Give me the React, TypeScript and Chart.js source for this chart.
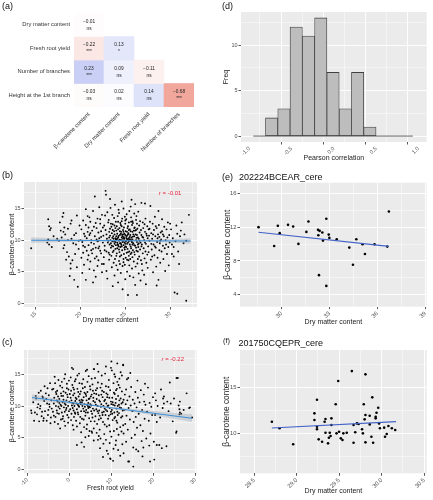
import React, { useEffect, useRef } from "react";
import { Chart, registerables } from "chart.js";

Chart.register(...registerables);
const FONT = "'Liberation Sans', Arial, Helvetica, sans-serif";
Chart.defaults.font.family = FONT;

// ---------- (a) correlation matrix ----------
const CORR_ROWS = ["Dry matter content", "Fresh root yield", "Number of branches", "Height at the 1st branch"];
const CORR_COLS = ["β-carotene content", "Dry matter content", "Fresh root yield", "Number of branches"];
const CORR_VALUES: (number | null)[][] = [
  [-0.01, null, null, null],
  [-0.22, 0.13, null, null],
  [0.23, 0.09, -0.11, null],
  [-0.03, 0.02, 0.14, -0.68],
];
const CORR_SIG: string[][] = [
  ["ns", "", "", ""],
  ["***", "*", "", ""],
  ["***", "ns", "ns", ""],
  ["ns", "ns", "ns", "***"],
];
const CORR_FILL: string[][] = [
  ["#fefcfc", "#fff", "#fff", "#fff"],
  ["#fbe7e3", "#e4e7fa", "#fff", "#fff"],
  ["#cad0f5", "#eef0fc", "#fdf1ef", "#fff"],
  ["#fefbfb", "#fcfcff", "#dfe3fa", "#f2a79d"],
];

// ---------- (d) histogram ----------
const HIST_EDGES = [-0.955, -0.81, -0.664, -0.519, -0.373, -0.228, -0.082, 0.063, 0.209, 0.354, 0.5, 0.645, 0.791, 0.936];
const HIST_COUNTS = [0, 2, 3, 12, 11, 13, 7, 3, 7, 1, 0, 0, 0];

// ---------- (b) beta-carotene vs dry matter ----------
const B_POINTS: [number, number][] = [
  [14.5,8.7],[16.4,13.3],[16.5,12.2],[16.6,11.6],[16.4,10.1],[16.5,9.3],[16.7,11.9],[16.3,9.6],[17.0,10.6],[16.8,8.9],
  [17.4,10.2],[17.7,12.8],[18.1,14.3],[18.0,13.7],[18.2,12.0],[18.1,11.3],[18.2,9.2],[18.1,8.7],[17.9,10.4],[18.3,10.9],
  [17.6,9.9],[18.5,8.1],[18.6,11.8],[18.9,12.6],[18.9,6.3],[18.9,5.5],[18.8,4.3],[19.3,3.7],[19.7,2.6],[19.6,13.9],
  [19.2,9.5],[19.4,7.8],[19.0,10.2],[18.7,7.4],[19.5,11.1],[19.8,8.6],[19.1,6.8],[19.6,5.7],[19.9,12.3],[18.4,6.9],
  [19.3,10.8],[19.8,9.9],[18.6,10.0],[19.5,9.3],[17.8,11.5],[19.0,13.1],
  [20.6,3.7],[20.2,4.8],[20.4,6.1],[20.1,7.2],[20.3,8.0],[20.5,8.9],[20.2,9.7],[20.7,10.3],[20.4,11.0],[20.1,11.7],
  [20.6,12.4],[20.3,13.1],[20.8,13.8],[20.9,9.2],[20.9,7.6],[21.0,5.4],[21.1,6.6],[21.2,8.4],[21.0,10.8],[21.3,11.5],
  [21.1,12.9],[21.4,14.6],[21.6,16.9],[21.5,9.4],[21.6,7.1],[21.7,8.8],[21.8,10.1],[21.5,12.1],[21.9,13.4],[21.7,4.2],
  [21.9,5.9],[21.4,3.3],[22.0,6.8],[22.1,9.0],[22.0,11.2],[22.2,12.6],[21.2,10.0],[20.8,11.3],[22.3,7.9],[22.3,10.5],
  [22.4,14.0],[22.1,15.2],[22.4,4.9],[22.2,8.3],[20.0,10.0],[21.8,11.9],[22.5,9.6],[22.5,12.0],[21.3,7.9],[22.0,8.7],
  [20.5,10.6],[20.9,12.0],[21.2,9.6],[21.6,10.6],[21.9,9.8],[22.3,11.4],[20.7,8.3],[21.4,8.6],[22.1,10.3],[21.0,13.6],
  [20.3,9.1],[21.7,12.7],[22.4,6.2],[21.5,5.2],[20.6,14.9],[22.2,13.3],[21.1,11.1],[21.8,7.4],[22.0,9.9],[20.8,6.9],
  [22.6,6.2],[22.7,9.1],[22.55,10.7],[22.65,12.3],[22.75,13.9],[22.8,17.8],[22.85,17.2],[22.9,5.1],[22.7,8.4],[22.95,10.2],
  [22.8,11.6],[22.6,7.3],[23.0,3.9],[23.05,9.6],[22.9,10.9],[23.1,12.8],[23.0,14.4],[23.15,8.0],[23.2,6.9],[23.25,9.3],
  [23.2,10.4],[23.3,11.8],[23.15,13.2],[23.35,15.1],[23.25,7.7],[23.3,16.5],[23.4,8.8],[23.35,10.0],[23.45,12.1],[23.5,5.7],
  [23.45,7.5],[23.55,9.8],[23.5,11.1],[23.6,12.5],[23.55,14.0],[23.65,9.0],[23.6,2.7],[23.7,8.3],[23.65,10.6],[23.75,13.5],
  [23.7,6.4],[23.8,4.4],[23.85,7.0],[23.8,9.4],[23.9,10.3],[23.75,11.4],[23.95,12.9],[23.85,15.6],[23.9,8.6],[24.0,6.0],
  [24.05,7.9],[23.95,9.2],[24.0,10.1],[24.1,11.0],[24.05,12.2],[24.15,13.8],[24.0,10.6],[24.1,8.7],[24.2,3.3],[24.15,5.3],
  [24.2,11.7],[24.25,14.8],[24.1,9.6],[24.3,6.7],[24.35,8.1],[24.25,9.0],[24.3,9.9],[24.4,10.8],[24.35,11.9],[24.45,12.7],
  [24.3,14.3],[24.4,7.4],[24.5,4.8],[24.55,7.6],[24.45,8.9],[24.5,9.5],[24.6,10.4],[24.55,11.3],[24.5,12.4],[24.65,13.4],
  [24.6,16.1],[24.45,10.0],[24.7,5.9],[24.65,8.4],[24.7,9.7],[24.75,11.6],[24.6,13.0],[24.7,2.2],[24.8,6.5],[24.85,7.8],
  [24.8,9.2],[24.9,10.2],[24.75,10.9],[24.85,12.0],[24.95,13.7],[24.8,15.0],[24.9,8.8],[25.0,3.8],[25.05,7.2],[24.95,8.5],
  [25.0,9.4],[25.1,10.5],[25.05,11.4],[25.0,12.6],[25.15,14.1],[25.1,9.9],[24.95,6.1],[25.2,5.0],[25.15,8.0],[25.2,10.7],
  [25.25,11.9],[25.1,13.3],[25.3,1.3],[25.35,6.8],[25.25,8.6],[25.3,9.6],[25.4,10.3],[25.35,11.1],[25.3,12.2],[25.45,14.6],
  [25.4,7.5],[25.5,4.3],[25.55,7.0],[25.45,8.2],[25.5,9.3],[25.6,10.1],[25.55,10.8],[25.5,11.7],[25.65,12.9],[25.6,15.3],
  [25.45,6.0],[25.7,16.4],[25.75,5.5],[25.65,8.7],[25.7,9.8],[25.8,11.3],[25.75,12.4],[25.65,13.6],[25.8,7.3],[25.9,4.1],
  [25.95,6.6],[25.85,8.4],[25.9,9.5],[26.0,10.6],[25.95,11.5],[25.85,12.7],[26.0,14.2],[26.1,2.9],[26.15,5.8],[26.05,7.7],
  [26.1,9.1],[26.2,10.0],[26.15,10.9],[26.05,12.0],[26.2,13.2],[26.1,15.7],[26.3,1.3],[26.35,6.3],[26.25,8.3],[26.3,9.7],
  [26.4,10.4],[26.35,11.8],[26.25,13.8],[26.4,7.0],[26.5,4.7],[26.55,7.4],[26.45,8.9],[26.5,10.2],[26.6,11.2],[26.55,12.3],
  [26.45,14.5],[26.7,3.6],[26.75,6.8],[26.65,8.5],[26.7,9.6],[26.8,10.8],[26.75,11.6],[26.65,13.0],[26.8,15.9],[26.9,5.2],
  [26.95,7.9],[26.85,9.3],[26.9,10.5],[27.0,11.9],[26.95,12.8],[26.85,6.2],[27.1,4.5],[27.15,7.1],[27.05,8.7],[27.1,10.0],
  [27.2,11.3],[27.15,12.5],[27.2,15.8],[27.3,3.0],[27.35,6.4],[27.25,8.2],[27.3,9.4],[27.4,10.7],[27.35,11.0],[27.25,13.4],
  [27.5,5.6],[27.45,7.7],[27.55,9.0],[27.5,10.3],[27.6,11.7],[27.45,12.2],
  [23.1,9.9],[23.3,10.7],[23.5,9.1],[23.6,11.6],[23.8,10.9],[23.9,9.7],[24.0,11.5],[24.2,10.4],[24.3,8.5],[24.4,9.5],
  [24.5,11.0],[24.6,9.0],[24.7,10.6],[24.8,11.3],[24.9,9.6],[25.0,10.8],[25.1,8.9],[25.2,9.4],[25.3,10.9],[25.4,11.6],
  [25.5,10.5],[25.6,9.0],[25.7,10.4],[25.8,9.3],[25.9,10.9],[26.0,9.2],[26.1,11.5],[26.2,8.8],[26.3,10.8],[26.4,9.3],
  [23.2,11.3],[23.4,9.5],[23.7,10.2],[23.9,11.9],[24.1,10.2],[24.2,9.2],[24.4,11.4],[24.6,10.0],[24.8,9.9],[24.9,11.0],
  [25.0,9.0],[25.2,11.3],[25.3,8.1],[25.4,9.8],[25.6,11.4],[25.7,8.0],[25.8,10.1],[26.0,11.9],[26.2,11.6],[26.4,8.2],
  [22.9,8.2],[23.4,12.6],[23.6,8.1],[23.8,12.3],[24.0,7.5],[24.2,12.9],[24.4,6.2],[24.6,12.2],[24.8,7.0],[25.0,13.1],
  [25.2,6.9],[25.4,12.8],[25.6,7.8],[25.8,13.0],[26.0,8.1],[26.3,12.6],[26.6,9.9],[26.8,9.0],[27.0,10.4],[27.2,9.6],
  [23.55,10.35],[24.25,10.65],[24.75,10.25],[25.25,10.15],[25.75,9.65],[26.25,10.35],[24.55,9.25],[25.05,9.75],[25.45,10.05],[23.95,10.15],
  [24.35,10.05],[24.85,10.45],[25.35,9.95],[25.85,10.55],[26.5,9.45],[24.65,10.85],[25.15,10.25],[25.65,9.95],[23.75,9.75],[24.15,9.35],
  [27.6,8.1],[27.7,9.9],[27.8,15.4],[27.75,12.9],[27.9,11.1],[27.85,6.9],[27.95,8.5],[28.0,10.2],[28.05,12.6],[28.1,4.9],
  [28.15,9.3],[28.2,11.6],[28.25,7.6],[28.3,13.7],[28.35,10.6],[28.4,8.8],[28.45,5.8],[28.5,2.8],[28.5,11.9],[28.55,9.7],
  [28.6,7.2],[28.65,10.9],[28.7,14.6],[28.7,3.7],[28.75,12.4],[28.8,8.4],[28.85,9.5],[28.9,6.4],[28.95,11.2],[29.0,10.1],
  [29.05,8.2],[29.1,11.4],[29.1,13.3],[29.2,9.1],[29.25,7.0],[29.3,10.6],[29.35,12.1],[29.4,8.7],[29.45,5.1],[29.5,10.0],
  [29.55,9.3],[29.6,11.7],[29.65,7.8],[29.7,10.4],[29.75,12.8],[29.8,8.9],[29.85,6.0],[29.9,10.8],[29.95,9.6],[27.65,10.7],
  [27.9,9.4],[28.1,10.9],[28.3,9.0],[28.6,10.3],[28.9,9.9],[29.2,10.9],[27.7,11.8],[28.0,7.4],[28.4,12.2],[28.8,10.5],
  [30.1,11.7],[30.2,9.3],[30.4,8.9],[30.4,7.4],[30.8,11.0],[30.5,1.7],[30.8,1.5],[31.8,9.9],[32.1,14.0],[31.8,0.4],
  [31.3,12.8],[30.3,10.3],[30.6,9.8],[30.9,8.2],[31.1,10.6],[31.5,9.5],[30.0,12.6],[30.7,12.3],[31.0,6.2],[31.6,10.9],
  [30.2,7.8],[31.2,11.5],
];
const B_FIT_X = [14.5, 32.3];
const B_FIT_Y = [9.98, 9.85];
const B_BAND_X = [14.5, 19, 23.7, 28, 32.3];
const B_BAND_LO = [9.53, 9.73, 9.79, 9.68, 9.4];
const B_BAND_HI = [10.43, 10.17, 10.03, 10.08, 10.3];
const B_NOTE = { r: "r", rest: " = -0.01", x: 30.0, y: 17.4 };

// ---------- (c) beta-carotene vs fresh root yield ----------
const C_POINTS: [number, number][] = [
  [-9.0,8.9],[-8.2,9.0],[-9.1,9.3],[-7.7,8.7],[-6.4,11.5],[-6.2,7.7],[-5.4,7.7],[-6.3,11.3],[-4.6,13.6],[-8.6,10.6],
  [-7.9,11.2],[-7.4,10.3],[-7.0,9.6],[-6.8,12.4],[-6.6,8.4],[-6.0,10.8],[-5.8,9.2],[-5.6,12.0],[-5.3,10.4],[-5.1,8.6],
  [-4.9,11.7],[-4.7,9.9],[-4.5,7.3],[-4.3,10.9],[-4.1,12.6],[-8.0,11.6],[-7.2,7.6],[-6.9,10.0],[-5.9,13.1],[-5.0,9.4],
  [-4.4,8.2],[-7.6,9.8],[-6.5,9.1],[-8.4,7.7],[-4.8,10.3],[-5.5,11.1],[-6.1,8.1],[-4.2,9.6],[-7.3,12.1],[-5.2,12.8],
  [-3.8,12.7],[-3.4,13.6],[-2.6,14.1],[-3.5,7.5],[-2.7,7.2],[-3.9,9.1],[-3.7,10.4],[-3.6,11.3],[-3.3,8.3],[-3.2,10.0],
  [-3.1,11.9],[-3.0,9.3],[-2.9,12.4],[-2.8,10.7],[-2.5,8.8],[-2.4,11.1],[-2.3,9.6],[-2.2,13.2],[-2.1,10.2],[-2.0,7.9],
  [-1.9,11.6],[-1.8,9.0],[-1.7,12.9],[-1.6,10.6],[-1.5,8.4],[-1.4,11.0],[-1.3,9.8],[-1.2,14.3],[-1.1,10.4],[-1.0,6.9],
  [-0.9,12.1],[-0.8,9.4],[-0.7,10.9],[-0.6,13.5],[-0.5,8.6],[-0.4,11.4],[-0.3,10.0],[-0.2,12.6],[-0.1,9.2],[0.0,10.7],
  [-3.5,14.6],[-2.2,6.5],[-1.0,15.0],[-0.3,7.4],[-1.8,13.8],[-2.6,9.9],[-3.2,12.2],[-0.7,9.7],[-1.4,12.3],[-2.9,8.9],
  [-0.5,11.8],[-1.6,8.0],[-2.4,10.5],[-0.9,10.2],[-1.2,7.6],[-3.7,8.5],[-0.2,8.2],[-1.9,10.0],[-2.7,11.5],[-0.6,12.8],
  [-1.1,9.1],[-2.0,12.0],[-0.1,14.0],[-3.0,10.9],[-1.5,11.6],
  [0.6,16.0],[4.2,15.7],[5.8,15.8],[1.0,6.3],[1.8,3.9],[5.4,5.8],[0.9,15.8],[3.9,15.5],[5.9,15.8],[5.3,6.0],
  [0.2,9.5],[0.3,11.3],[0.4,12.4],[0.5,8.8],[0.6,10.1],[0.7,13.3],[0.8,9.7],[0.9,11.7],[1.0,10.4],[1.1,8.3],
  [1.2,12.0],[1.3,9.0],[1.4,10.8],[1.5,14.2],[1.6,7.7],[1.7,11.1],[1.8,9.5],[1.9,12.7],[2.0,10.2],[2.1,8.7],
  [2.2,11.5],[2.3,9.9],[2.4,13.6],[2.5,7.3],[2.6,10.6],[2.7,12.3],[2.8,9.2],[2.9,11.0],[3.0,8.0],[3.1,10.0],
  [3.2,12.8],[3.3,9.6],[3.4,11.4],[3.5,6.7],[3.6,10.3],[3.7,13.0],[3.8,8.5],[3.9,11.9],[4.0,9.4],[4.1,10.9],
  [4.2,7.1],[4.3,12.2],[4.4,9.0],[4.5,10.5],[4.6,14.7],[4.7,8.1],[4.8,11.2],[4.9,9.8],[5.0,12.6],[5.1,7.6],
  [5.2,10.1],[5.3,11.8],[5.4,8.8],[5.5,13.4],[5.6,9.6],[5.7,10.8],[5.8,6.5],[5.9,12.0],[0.3,14.5],[0.8,7.0],
  [1.3,13.9],[1.8,6.8],[2.3,15.1],[2.8,5.9],[3.3,14.2],[3.8,5.1],[4.3,13.8],[4.8,6.1],[5.3,14.3],[5.8,4.6],
  [0.5,10.9],[1.0,9.3],[1.5,11.3],[2.0,9.0],[2.5,11.9],[3.0,10.6],[3.5,9.2],[4.0,11.6],[4.5,9.7],[5.0,10.3],
  [5.5,8.2],[0.1,11.9],[0.7,10.5],[1.2,10.0],[1.7,10.4],[2.2,10.0],[2.7,10.3],[3.2,10.9],[3.7,9.9],[4.2,10.2],
  [4.7,9.9],[5.2,9.2],[5.7,11.3],[1.1,12.6],[2.6,8.3],[3.6,12.1],[4.6,11.1],[5.6,12.4],[0.4,7.8],[1.9,14.8],
  [2.9,4.3],[3.9,9.0],[4.9,13.1],[5.9,9.3],[2.4,10.9],[3.4,7.9],[4.4,10.0],[1.4,8.8],[0.9,12.9],[5.1,11.5],
  [3.0,13.5],[4.1,6.4],[2.1,12.2],[4.6,5.3],[3.5,3.6],
  [8.7,16.2],[8.7,4.7],[9.8,1.7],[11.4,16.7],[11.4,13.8],[12.8,16.5],[11.0,3.9],[12.9,2.6],[6.8,4.7],[7.4,4.9],
  [9.7,1.8],[12.8,16.4],[10.0,17.0],[6.1,10.6],[6.2,8.4],[6.3,12.5],[6.4,9.5],[6.5,11.1],[6.6,7.2],[6.7,10.0],
  [6.8,13.7],[6.9,8.9],[7.0,11.7],[7.1,9.3],[7.2,6.3],[7.3,10.7],[7.4,12.9],[7.5,8.1],[7.6,10.3],[7.7,14.8],
  [7.8,9.0],[7.9,11.4],[8.0,7.5],[8.1,10.0],[8.2,12.2],[8.3,5.6],[8.4,9.6],[8.5,11.0],[8.6,8.6],[8.7,13.1],
  [8.8,10.4],[8.9,6.8],[9.0,9.2],[9.1,11.8],[9.2,8.0],[9.3,10.1],[9.4,14.1],[9.5,7.0],[9.6,9.7],[9.7,12.5],
  [9.8,8.7],[9.9,10.7],[10.0,5.2],[10.1,9.4],[10.2,11.3],[10.3,7.8],[10.4,10.2],[10.5,13.6],[10.6,6.1],[10.7,9.0],
  [10.8,11.9],[10.9,8.3],[11.0,10.5],[11.1,4.6],[11.2,9.6],[11.3,12.7],[11.4,7.4],[11.5,10.0],[11.6,11.6],[11.7,5.5],
  [11.8,8.9],[11.9,14.3],[12.0,9.8],[12.1,6.7],[12.2,11.2],[12.3,8.2],[12.4,10.4],[12.5,12.3],[12.6,4.0],[12.7,9.3],
  [12.8,7.0],[12.9,11.0],[6.1,14.4],[6.5,5.8],[6.9,15.4],[7.3,3.4],[7.7,13.5],[8.1,4.1],[8.5,15.1],[8.9,3.0],
  [9.3,13.0],[9.7,6.0],[10.1,15.6],[10.5,3.3],[10.9,14.6],[11.3,6.4],[11.7,13.3],[12.1,2.2],[12.5,14.8],[12.9,5.7],
  [6.3,10.2],[6.7,9.2],[7.1,10.9],[7.5,9.9],[7.9,8.6],[8.3,10.8],[8.7,9.4],[9.1,10.0],[9.5,11.3],[9.9,9.1],
  [10.3,10.6],[10.7,8.1],[11.1,11.1],[11.5,8.6],[11.9,10.9],[12.3,9.7],[12.7,10.6],[6.4,11.9],[7.0,7.9],[7.6,11.8],
  [8.2,9.1],[8.8,12.0],[9.4,8.5],[10.0,10.3],[10.6,12.1],[11.2,7.7],[11.8,10.2],[12.4,6.0],[6.6,12.8],[7.2,8.5],
  [7.8,12.4],[8.4,7.1],[9.0,11.4],[9.6,4.2],[10.2,8.8],[10.8,10.1],[11.4,9.1],[12.0,12.9],[12.6,8.4],[6.0,7.6],
  [9.2,2.5],[10.4,1.4],[11.6,3.1],[8.0,2.0],[7.0,5.3],[12.2,15.3],[9.9,16.0],[10.7,15.0],[6.7,16.6],[11.1,12.5],
  [14.0,14.4],[13.7,14.2],[15.2,0.5],[14.2,1.3],[14.0,1.3],[16.4,2.9],[17.2,4.5],[15.6,5.5],[17.6,3.5],[17.8,10.7],
  [15.2,3.5],[19.2,1.3],[13.1,9.4],[13.2,11.8],[13.3,7.2],[13.4,10.3],[13.5,12.6],[13.6,8.5],[13.8,10.9],[13.9,6.3],
  [14.1,9.7],[14.3,11.5],[14.4,7.9],[14.6,10.1],[14.7,13.0],[14.8,5.0],[15.0,9.2],[15.1,11.0],[15.3,7.5],[15.5,10.4],
  [15.7,12.2],[15.8,8.3],[16.0,9.8],[16.1,6.6],[16.3,11.3],[16.5,8.8],[16.7,10.6],[16.9,7.0],[17.0,12.5],[17.3,9.4],
  [17.5,6.1],[17.7,11.8],[17.9,8.0],[18.1,10.2],[18.3,4.9],[18.5,9.1],[18.7,12.9],[18.9,7.7],[19.1,10.5],[19.3,5.7],
  [19.5,9.9],[19.7,8.6],[19.9,11.4],[13.5,4.4],[14.5,15.2],[16.2,14.0],[18.0,13.5],[15.9,3.2],[17.4,2.1],[19.0,3.8],
  [20.4,12.0],[20.1,4.4],[20.2,1.6],[21.4,3.9],[22.5,11.5],[23.1,3.7],[20.4,8.6],[20.8,7.5],[23.9,13.7],[25.8,14.4],
  [25.4,5.8],[26.2,8.7],[26.2,9.5],[26.3,9.0],[27.9,12.0],[28.7,9.8],[24.1,10.4],[22.2,9.7],[22.3,11.2],[22.5,10.4],
  [23.3,10.7],[26.3,10.7],[26.0,10.1],[26.6,8.8],[28.5,9.7],[25.5,6.0],[20.8,3.9],[22.0,3.4],[25.5,14.4],[21.0,10.0],
  [21.6,8.2],[23.6,9.2],[24.6,7.6],[27.2,9.4],[21.8,12.6],[24.9,11.2],[29.2,8.2],[20.6,10.9],
];
const C_FIT_X = [-8.9, 29.2];
const C_FIT_Y = [11.35, 8.1];
const C_BAND_X = [-8.9, -2, 5, 14, 22, 29.2];
const C_BAND_LO = [10.85, 10.48, 10.0, 9.2, 8.33, 7.5];
const C_BAND_HI = [11.85, 11.04, 10.34, 9.6, 9.09, 8.7];
const C_NOTE = { r: "r", rest: " = -0.22", x: 24.6, y: 17.4 };

// ---------- (e) 202224BCEAR_cere ----------
const E_POINTS: [number, number][] = [
  [28.56,12.0],[29.54,9.78],[29.77,12.15],[29.89,11.29],[30.41,12.27],[30.73,12.07],[31.06,10.02],[31.56,11.44],
  [31.69,12.67],[32.29,11.68],[32.31,11.05],[32.39,11.56],[32.56,11.36],[32.6,10.41],[32.35,6.33],[32.81,12.99],
  [32.96,11.12],[33.0,10.73],[32.81,5.06],[33.46,10.57],[34.25,9.58],[34.48,7.56],[34.69,10.57],[35.08,9.98],
  [35.23,8.83],[35.83,9.98],[36.63,9.7],[36.73,13.85],
];
const E_FIT_X = [28.56, 36.73];
const E_FIT_Y = [11.4, 9.73];

// ---------- (f) 201750CQEPR_cere ----------
const F_POINTS: [number, number][] = [
  [28.71,11.27],[28.8,10.55],[28.96,8.8],[29.21,12.19],[29.21,11.46],[29.24,13.68],[29.24,10.72],[29.24,10.44],
  [29.26,9.34],[29.3,9.08],[29.33,11.27],[29.34,11.57],[29.34,10.07],[29.37,8.9],[29.38,9.52],[29.39,10.07],
  [29.41,11.64],[29.41,10.91],[29.4,9.7],[29.46,13.18],[29.47,10.0],[29.49,15.73],[29.5,10.18],[29.52,9.45],
  [29.54,9.27],[29.55,10.0],[29.59,10.07],[29.65,16.82],[29.67,10.91],[29.67,8.97],[29.69,10.11],[29.71,11.09],
  [29.73,11.02],[29.77,10.44],[29.78,10.0],[29.79,13.18],[29.8,11.53],[29.81,16.46],[29.81,12.0],[29.81,9.01],
  [29.86,11.93],[29.86,10.98],[29.88,9.63],[29.89,13.94],[29.9,8.97],[29.93,11.64],[29.93,11.82],[29.94,12.26],
  [29.96,12.81],[29.97,11.09],[29.98,10.55],[30.03,10.62],[30.04,9.63],[30.06,9.92],[30.08,10.8],[30.12,10.55],
  [30.16,10.36],
];
const F_FIT_X = [28.71, 30.17];
const F_FIT_Y = [10.58, 11.28];

// ---------- helpers ----------
type AxisSpec = {
  min: number; max: number; major: number[]; minor: number[]; labels: string[];
  title: string; titleSize: number; titlePad: number; size: number; tickSize: number;
};

const close = (a: number, b: number) => Math.abs(a - b) < 1e-6;

function ggAxis(spec: AxisSpec, horizontal: boolean): any {
  const all = [...spec.major, ...spec.minor].sort((a, b) => a - b);
  const isMajor = (v: number) => spec.major.some((m) => close(m, v));
  return {
    type: "linear",
    min: spec.min,
    max: spec.max,
    bounds: "data",
    offset: false,
    afterBuildTicks: (scale: any) => {
      scale.ticks = all.map((v) => ({ value: v }));
    },
    afterFit: (scale: any) => {
      if (horizontal) scale.height = spec.size;
      else scale.width = spec.size;
    },
    grid: {
      color: "#ffffff",
      lineWidth: (ctx: any) => (ctx.tick && isMajor(ctx.tick.value) ? 0.9 : 0.45),
      tickColor: (ctx: any) => (ctx.tick && isMajor(ctx.tick.value) ? "#444444" : "rgba(0,0,0,0)"),
      tickLength: 2.5,
      drawTicks: true,
    },
    border: { display: false },
    ticks: {
      autoSkip: false,
      padding: 1,
      color: "#4d4d4d",
      font: { size: spec.tickSize, family: FONT },
      maxRotation: horizontal ? 45 : 0,
      minRotation: horizontal ? 45 : 0,
      callback: (v: number) => {
        const i = spec.major.findIndex((m) => close(m, v));
        return i >= 0 ? spec.labels[i] : "";
      },
    },
    title: {
      display: true,
      text: spec.title,
      color: "#222222",
      font: { size: spec.titleSize, family: FONT },
      padding: horizontal ? { top: 0, bottom: spec.titlePad } : { top: spec.titlePad, bottom: 0 },
    },
  };
}

const ggPanel = {
  id: "ggPanel",
  beforeDraw(chart: any) {
    const { ctx, chartArea } = chart;
    ctx.save();
    ctx.fillStyle = "#ebebeb";
    ctx.fillRect(chartArea.left, chartArea.top, chartArea.right - chartArea.left, chartArea.bottom - chartArea.top);
    ctx.restore();
  },
};

function notePlugin(note?: { r: string; rest: string; x: number; y: number }) {
  return {
    id: "note",
    afterDatasetsDraw(chart: any) {
      if (!note) return;
      const { ctx, scales } = chart;
      const px = scales.x.getPixelForValue(note.x);
      const py = scales.y.getPixelForValue(note.y);
      ctx.save();
      ctx.fillStyle = "#e4253c";
      ctx.textBaseline = "middle";
      ctx.font = `italic 6px ${FONT}`;
      const w1 = ctx.measureText(note.r).width;
      ctx.font = `6px ${FONT}`;
      const w2 = ctx.measureText(note.rest).width;
      const x0 = px - (w1 + w2) / 2;
      ctx.font = `italic 6px ${FONT}`;
      ctx.textAlign = "left";
      ctx.fillText(note.r, x0, py);
      ctx.font = `6px ${FONT}`;
      ctx.fillText(note.rest, x0 + w1, py);
      ctx.restore();
    },
  };
}

type ScatterSpec = {
  points: [number, number][];
  fitX: number[]; fitY: number[];
  bandX?: number[]; bandLo?: number[]; bandHi?: number[];
  lineColor: string; pointRadius: number;
  x: AxisSpec; y: AxisSpec; padTop: number; padRight: number;
  note?: { r: string; rest: string; x: number; y: number };
};

function scatterConfig(s: ScatterSpec): any {
  const datasets: any[] = [
    {
      type: "line",
      data: s.fitX.map((x, i) => ({ x, y: s.fitY[i] })),
      borderColor: s.lineColor,
      borderWidth: 1.1,
      pointRadius: 0,
      fill: false,
    },
  ];
  if (s.bandX && s.bandLo && s.bandHi) {
    datasets.push(
      {
        type: "line",
        data: s.bandX.map((x, i) => ({ x, y: s.bandHi![i] })),
        borderColor: "rgba(0,0,0,0)",
        borderWidth: 0,
        pointRadius: 0,
        tension: 0.4,
        fill: "+1",
        backgroundColor: "rgba(150,160,175,0.35)",
      },
      {
        type: "line",
        data: s.bandX.map((x, i) => ({ x, y: s.bandLo![i] })),
        borderColor: "rgba(0,0,0,0)",
        borderWidth: 0,
        pointRadius: 0,
        tension: 0.4,
        fill: false,
      }
    );
  }
  datasets.push({
    type: "scatter",
    data: s.points.map(([x, y]) => ({ x, y })),
    pointRadius: s.pointRadius,
    pointBackgroundColor: "#000000",
    pointBorderWidth: 0,
    showLine: false,
  });
  return {
    type: "scatter",
    data: { datasets },
    options: {
      animation: false,
      responsive: false,
      devicePixelRatio: 1,
      events: [],
      layout: { padding: { top: s.padTop, right: s.padRight, left: 0, bottom: 0 } },
      plugins: { legend: { display: false }, tooltip: { enabled: false } },
      scales: { x: ggAxis(s.x, true), y: ggAxis(s.y, false) },
    },
    plugins: [ggPanel, notePlugin(s.note)],
  };
}

const COMMON_Y_B: Omit<AxisSpec, "min" | "max" | "titlePad"> = {
  major: [0, 5, 10, 15], minor: [2.5, 7.5, 12.5, 17.5], labels: ["0", "5", "10", "15"],
  title: "β-carotene content", titleSize: 7.4, size: 24, tickSize: 5.5,
};

function configB() {
  return scatterConfig({
    points: B_POINTS, fitX: B_FIT_X, fitY: B_FIT_Y, bandX: B_BAND_X, bandLo: B_BAND_LO, bandHi: B_BAND_HI,
    lineColor: "#3e8fd6", pointRadius: 0.95, padTop: 12, padRight: 19, note: B_NOTE,
    x: { min: 13.7, max: 33.0, major: [15, 20, 25, 30], minor: [17.5, 22.5, 27.5, 32.5], labels: ["15", "20", "25", "30"],
      title: "Dry matter content", titleSize: 6.8, titlePad: 10.9, size: 28, tickSize: 5.5 },
    y: { ...COMMON_Y_B, min: -0.6, max: 19.2, titlePad: 7.7 },
  });
}

function configC() {
  return scatterConfig({
    points: C_POINTS, fitX: C_FIT_X, fitY: C_FIT_Y, bandX: C_BAND_X, bandLo: C_BAND_LO, bandHi: C_BAND_HI,
    lineColor: "#3e8fd6", pointRadius: 0.95, padTop: 15, padRight: 19.3, note: C_NOTE,
    x: { min: -10.8, max: 30.3, major: [-10, 0, 10, 20, 30], minor: [-5, 5, 15, 25], labels: ["-10", "0", "10", "20", "30"],
      title: "Fresh root yield", titleSize: 6.8, titlePad: 8.2, size: 26.7, tickSize: 5.5 },
    y: { ...COMMON_Y_B, min: -0.55, max: 18.8, titlePad: 7.7 },
  });
}

function configE() {
  return scatterConfig({
    points: E_POINTS, fitX: E_FIT_X, fitY: E_FIT_Y,
    lineColor: "#4262c8", pointRadius: 1.3, padTop: 12.7, padRight: 6.3,
    x: { min: 27.4, max: 39.1, major: [30, 33, 36, 39], minor: [28.5, 31.5, 34.5, 37.5], labels: ["30", "33", "36", "39"],
      title: "Dry matter content", titleSize: 7, titlePad: 9.1, size: 28.3, tickSize: 5.8 },
    y: { min: 2.6, max: 17.25, major: [4, 8, 12, 16], minor: [6, 10, 14], labels: ["4", "8", "12", "16"],
      title: "β-carotene content", titleSize: 8.4, titlePad: 6.2, size: 24, tickSize: 5.8 },
  });
}

function configF() {
  return scatterConfig({
    points: F_POINTS, fitX: F_FIT_X, fitY: F_FIT_Y,
    lineColor: "#4262c8", pointRadius: 1.3, padTop: 15, padRight: 6.3,
    x: { min: 28.335, max: 30.53, major: [28.5, 29, 29.5, 30, 30.5], minor: [28.75, 29.25, 29.75, 30.25],
      labels: ["28.5", "29.0", "29.5", "30.0", "30.5"],
      title: "Dry matter content", titleSize: 7, titlePad: 4.8, size: 26.7, tickSize: 5.8 },
    y: { min: 5.62, max: 19.13, major: [10, 15], minor: [7.5, 12.5, 17.5], labels: ["10", "15"],
      title: "β-carotene content", titleSize: 8.4, titlePad: 5.3, size: 24, tickSize: 5.8 },
  });
}

function configD(): any {
  const centers = HIST_COUNTS.map((_, i) => (HIST_EDGES[i] + HIST_EDGES[i + 1]) / 2);
  return {
    type: "bar",
    data: {
      datasets: [
        {
          type: "line",
          data: [
            { x: HIST_EDGES[0], y: 0 },
            { x: HIST_EDGES[HIST_EDGES.length - 1], y: 0 },
          ],
          borderColor: "#444444",
          borderWidth: 0.8,
          pointRadius: 0,
          fill: false,
        },
        {
          type: "bar",
          data: centers.map((x, i) => ({ x, y: HIST_COUNTS[i] })),
          backgroundColor: "#bdbdbd",
          borderColor: "#404040",
          borderWidth: 0.8,
          borderSkipped: false,
          barPercentage: 1,
          categoryPercentage: 1,
        },
      ],
    },
    options: {
      animation: false,
      responsive: false,
      devicePixelRatio: 1,
      events: [],
      layout: { padding: { top: 12, right: 6.3, left: 0, bottom: 0 } },
      plugins: { legend: { display: false }, tooltip: { enabled: false } },
      scales: {
        x: ggAxis({ min: -1.1, max: 1.1, major: [-1, -0.5, 0, 0.5, 1], minor: [-0.75, -0.25, 0.25, 0.75],
          labels: ["-1.0", "-0.5", "0.0", "0.5", "1.0"], title: "Pearson correlation", titleSize: 7, titlePad: 7.5,
          size: 28, tickSize: 5.5 }, true),
        y: ggAxis({ min: -0.65, max: 13.65, major: [0, 5, 10], minor: [2.5, 7.5, 12.5], labels: ["0", "5", "10"],
          title: "Freq", titleSize: 7, titlePad: 6.1, size: 25, tickSize: 5.5 }, false),
      },
    },
    plugins: [ggPanel],
  };
}

const fmtCorr = (v: number) => (v < 0 ? "\u2212" + Math.abs(v).toFixed(2) : v.toFixed(2));

const cellText = {
  id: "cellText",
  afterDatasetsDraw(chart: any) {
    const { ctx, scales } = chart;
    ctx.save();
    ctx.fillStyle = "#222222";
    ctx.textAlign = "center";
    ctx.textBaseline = "middle";
    ctx.font = `4.8px ${FONT}`;
    CORR_VALUES.forEach((row, r) =>
      row.forEach((v, c) => {
        if (v === null) return;
        const px = scales.x.getPixelForValue(c);
        const py = scales.y.getPixelForValue(r + 1);
        ctx.fillText(fmtCorr(v), px, py - 3.3);
        ctx.fillText(CORR_SIG[r][c], px, py + 3.5);
      })
    );
    ctx.restore();
  },
};

function configA(): any {
  return {
    type: "bar",
    data: {
      labels: CORR_COLS,
      datasets: CORR_ROWS.map((row, r) => ({
        label: row,
        data: CORR_VALUES[r].map((v) => (v === null ? null : [r + 0.5, r + 1.5])),
        backgroundColor: CORR_FILL[r],
        borderWidth: 0,
        grouped: false,
        barPercentage: 1,
        categoryPercentage: 1,
      })),
    },
    options: {
      animation: false,
      responsive: false,
      devicePixelRatio: 1,
      events: [],
      layout: { padding: { top: 13, right: 22, left: 0, bottom: 0 } },
      plugins: { legend: { display: false }, tooltip: { enabled: false } },
      scales: {
        x: {
          type: "category",
          grid: { display: false, drawTicks: false },
          border: { display: false },
          ticks: { autoSkip: false, maxRotation: 45, minRotation: 45, padding: 4, color: "#333333", font: { size: 5.8, family: FONT } },
          afterFit: (s: any) => { s.height = 63; },
        },
        y: {
          type: "linear",
          min: 0.5,
          max: 4.5,
          reverse: true,
          bounds: "data",
          afterBuildTicks: (s: any) => { s.ticks = CORR_ROWS.map((_, i) => ({ value: i + 1 })); },
          afterFit: (s: any) => { s.width = 74; },
          grid: { display: false, drawTicks: false },
          border: { display: false },
          ticks: {
            autoSkip: false,
            padding: 4,
            color: "#333333",
            font: { size: 5.8, family: FONT },
            callback: (v: number) => CORR_ROWS[Math.round(v) - 1] ?? "",
          },
        },
      },
    },
    plugins: [cellText],
  };
}

function ChartBox(props: { left: number; top: number; width: number; height: number; make: () => any }) {
  const ref = useRef<HTMLCanvasElement>(null);
  useEffect(() => {
    const chart = new Chart(ref.current as HTMLCanvasElement, props.make());
    return () => chart.destroy();
  }, []);
  return (
    <canvas
      ref={ref}
      width={props.width}
      height={props.height}
      style={{ position: "absolute", left: props.left, top: props.top, width: props.width, height: props.height, display: "block" }}
    />
  );
}

function Label(props: { left: number; top: number; size: number; text: string }) {
  return (
    <div style={{ position: "absolute", left: props.left, top: props.top, fontSize: props.size, lineHeight: `${props.size}px`, color: "#111", whiteSpace: "nowrap" }}>
      {props.text}
    </div>
  );
}

export default function App() {
  return (
    <div style={{ position: "fixed", left: 0, top: 0, width: 433, height: 500, background: "#ffffff", fontFamily: FONT, overflow: "hidden" }}>
      <ChartBox left={0} top={0} width={216} height={170} make={configA} />
      <ChartBox left={216} top={0} width={217} height={170} make={configD} />
      <ChartBox left={0} top={170} width={216} height={165} make={configB} />
      <ChartBox left={216} top={170} width={217} height={165} make={configE} />
      <ChartBox left={0} top={335} width={216} height={165} make={configC} />
      <ChartBox left={216} top={335} width={217} height={165} make={configF} />
      <Label left={2} top={2} size={9} text="(a)" />
      <Label left={222} top={2} size={9} text="(d)" />
      <Label left={2} top={171} size={9} text="(b)" />
      <Label left={222} top={173} size={9} text="(e)" />
      <Label left={239} top={173} size={9} text="202224BCEAR_cere" />
      <Label left={2} top={338} size={9} text="(c)" />
      <Label left={223} top={337} size={7.5} text="(f)" />
      <Label left={238.5} top={339} size={9} text="201750CQEPR_cere" />
    </div>
  );
}
